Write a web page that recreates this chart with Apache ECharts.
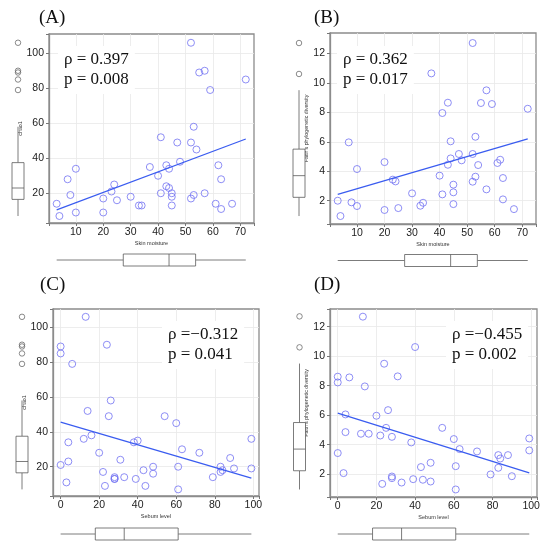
<!DOCTYPE html>
<html>
<head>
<meta charset="utf-8">
<script src="https://cdn.jsdelivr.net/npm/echarts@6/dist/echarts.min.js"></script>
<style>
html, body { margin: 0; padding: 0; background: #fff; }
#chart { width: 550px; height: 547px; }
</style>
</head>
<body>
<div id="chart"></div>
<script>
// points: [x, y]
var skinChaoPts = [[3,14],[4,7],[7,28],[8,19],[10,34],[10,9],[20,17],[20,9],[23,21],[24,25],[25,16],[30,18],
    [33,13],[34,13],[37,35],[40,30],[41,52],[41,20],[43,36],[43,24],[44,34],[44,23],[45,20],[45,18],[45,13],
    [47,49],[48,38],[52,49],[52,17],[52,106],[53,58],[53,19],[54,45],[55,89],[57,90],[57,20],[59,79],[61,14],
    [62,36],[63,28],[63,11],[67,14],[72,85]];
var skinFaithPts = [[3,2.0],[4,0.96],[7,5.96],[8,1.89],[10,1.64],[10,4.15],[20,4.62],[20,1.37],[23,3.43],[24,3.31],
    [25,1.5],[30,2.5],[33,1.66],[34,1.86],[37,10.64],[40,3.7],[41,7.95],[41,2.43],[43,8.65],[43,4.44],[44,6.03],
    [44,4.87],[45,3.09],[45,2.57],[45,1.77],[47,5.17],[48,4.74],[52,5.17],[52,3.29],[52,12.7],[53,6.34],[53,3.63],
    [54,4.42],[55,8.63],[57,9.49],[57,2.77],[59,8.56],[61,4.56],[62,4.78],[63,3.54],[63,2.09],[67,1.43],[72,8.24]];
var sebumChaoPts = [[0,89],[0,85],[0,21],[3,11],[4,34],[4,23],[6,79],[12,36],[13,106],[14,52],[16,38],[20,28],
    [22,17],[23,9],[24,90],[25,49],[26,58],[28,14],[28,13],[28,13],[31,24],[33,14],[38,34],[39,13],[40,35],[43,18],
    [44,9],[48,20],[48,16],[54,49],[60,45],[61,20],[61,7],[63,30],[72,28],[79,14],[83,20],[83,17],[84,18],
    [88,25],[90,19],[99,36],[99,19]];
var sebumFaithPts = [[0,8.61],[0,8.22],[0,3.43],[3,2.07],[4,6.05],[4,4.85],[6,8.56],[12,4.74],[13,12.68],[14,7.95],
    [16,4.74],[20,5.96],[22,4.62],[23,1.34],[24,9.49],[25,5.14],[26,6.34],[28,4.53],[28,1.84],[28,1.73],[31,8.63],
    [33,1.43],[38,4.15],[39,1.66],[40,10.62],[43,2.48],[44,1.62],[48,2.77],[48,1.5],[54,5.14],[60,4.38],[61,2.54],
    [61,0.96],[63,3.7],[72,3.54],[79,1.98],[83,3.29],[83,2.43],[84,3.06],[88,3.29],[90,1.86],[99,4.42],[99,3.61]];

// fitted lines, end points
var fitSkinChao = [[3,10.5],[72,51]];
var fitSkinFaith = [[3,2.43],[72,6.2]];
var fitSebumChao = [[0,45.6],[99,13.5]];
var fitSebumFaith = [[0,6.14],[99,2.09]];

// marginal boxplots: [low whisker, Q1, median, Q3, high whisker]
var chaoBox = [7, 16.5, 23, 37.5, 58];
var chaoOutliers = [106, 90, 89, 85, 79];
var faithBox = [0.96, 2.23, 3.7, 5.5, 9.5];
var faithOutliers = [12.7, 10.6];
var skinBox = [3, 27.3, 44, 53.7, 72];
var sebumBox = [0, 18, 33, 61, 99];

var panelLabels = ["(A)", "(B)", "(C)", "(D)"];
var statTexts = [
    "\u03c1 = 0.397\np = 0.008",
    "\u03c1 = 0.362\np = 0.017",
    "\u03c1 =\u22120.312\np = 0.041",
    "\u03c1 =\u22120.455\np = 0.002"
];

var panels = [
    {pts: skinChaoPts, fit: fitSkinChao, yBox: chaoBox, yOut: chaoOutliers, xBox: skinBox,
     xName: "Skin moisture", yName: "chao1",
     grid: {left: 49, top: 34, width: 205, height: 189}, xr: [0.2, 75, 10], yr: [3, 111, 20],
     boxL: 6, boxT: 248, stat: [58, 46], lab: [39, 18]},
    {pts: skinFaithPts, fit: fitSkinFaith, yBox: faithBox, yOut: faithOutliers, xBox: skinBox,
     xName: "Skin moisture", yName: "Faith's phylogenetic diversity",
     grid: {left: 330, top: 33, width: 206, height: 191}, xr: [0.2, 75, 10], yr: [0.42, 13.38, 2],
     boxL: 287, boxT: 248.5, stat: [337, 46], lab: [314, 18]},
    {pts: sebumChaoPts, fit: fitSebumChao, yBox: chaoBox, yOut: chaoOutliers, xBox: sebumBox,
     xName: "Sebum level", yName: "chao1",
     grid: {left: 53, top: 309, width: 206, height: 187}, xr: [-3.96, 102.96, 20], yr: [3.2, 110.5, 20],
     boxL: 10, boxT: 522, stat: [162, 321], lab: [40, 285]},
    {pts: sebumFaithPts, fit: fitSebumFaith, yBox: faithBox, yOut: faithOutliers, xBox: sebumBox,
     xName: "Sebum level", yName: "Faith's phylogenetic diversity",
     grid: {left: 330, top: 309, width: 207, height: 188}, xr: [-4, 103, 20], yr: [0.45, 13.2, 2],
     boxL: 287.5, boxT: 522, stat: [446, 321], lab: [314, 285]}
];

var chart = echarts.init(document.getElementById("chart"), null, {renderer: "canvas"});

function tickFormatter(step) {
    return function (v) {
        var r = v / step;
        return Math.abs(r - Math.round(r)) < 1e-6 ? String(Math.round(v)) : "";
    };
}

function boxRenderer(horizontal) {
    return function (params, api) {
        var at = function (i) {
            return horizontal ? api.coord([api.value(i), api.value(0)]) : api.coord([api.value(0), api.value(i)]);
        };
        var lo = at(1), q1 = at(2), md = at(3), q3 = at(4), hi = at(5);
        var hw = 6;
        var st = {stroke: "#5a5a5a", lineWidth: 0.8, fill: "#fff"};
        var kids;
        if (horizontal) {
            var y = lo[1];
            kids = [
                {type: "line", shape: {x1: lo[0], y1: y, x2: q1[0], y2: y}, style: st},
                {type: "line", shape: {x1: q3[0], y1: y, x2: hi[0], y2: y}, style: st},
                {type: "rect", shape: {x: q1[0], y: y - hw, width: q3[0] - q1[0], height: hw * 2}, style: st},
                {type: "line", shape: {x1: md[0], y1: y - hw, x2: md[0], y2: y + hw}, style: st}
            ];
        } else {
            var x = lo[0];
            kids = [
                {type: "line", shape: {x1: x, y1: lo[1], x2: x, y2: q1[1]}, style: st},
                {type: "line", shape: {x1: x, y1: q3[1], x2: x, y2: hi[1]}, style: st},
                {type: "rect", shape: {x: x - hw, y: q3[1], width: hw * 2, height: q1[1] - q3[1]}, style: st},
                {type: "line", shape: {x1: x - hw, y1: md[1], x2: x + hw, y2: md[1]}, style: st}
            ];
        }
        return {type: "group", children: kids};
    };
}

var grids = [], xAxes = [], yAxes = [], series = [], graphics = [];

panels.forEach(function (p, i) {
    var g0 = grids.length;
    // main scatter grid
    grids.push({left: p.grid.left, top: p.grid.top, width: p.grid.width, height: p.grid.height,
        show: true, borderColor: "#8c8c8c", borderWidth: 1.3, backgroundColor: "transparent"});
    // left boxplot grid
    grids.push({left: p.boxL, top: p.grid.top, width: 24, height: p.grid.height});
    // bottom boxplot grid
    grids.push({left: p.grid.left, top: p.boxT, width: p.grid.width, height: 24});

    var axisText = {fontFamily: "Liberation Sans", fontSize: 10.5, color: "#222"};
    xAxes.push({
        gridIndex: g0, type: "value", min: p.xr[0], max: p.xr[1],
        minInterval: p.xr[2], maxInterval: p.xr[2], splitNumber: 6,
        axisLine: {show: true, onZero: false, lineStyle: {color: "#8c8c8c", width: 1.3}},
        axisTick: {show: true, length: 3, lineStyle: {color: "#777"}},
        axisLabel: Object.assign({margin: 4, formatter: tickFormatter(p.xr[2])}, axisText),
        splitLine: {show: true, showMinLine: false, showMaxLine: false, lineStyle: {color: "#e8e8e8", width: 0.8}},
        name: p.xName, nameLocation: "middle", nameGap: 17,
        nameTextStyle: {fontFamily: "Liberation Sans", fontSize: 5.5, color: "#333"}
    });
    yAxes.push({
        gridIndex: g0, type: "value", min: p.yr[0], max: p.yr[1],
        minInterval: p.yr[2], maxInterval: p.yr[2], splitNumber: 6,
        axisLine: {show: true, onZero: false, lineStyle: {color: "#8c8c8c", width: 1.3}},
        axisTick: {show: true, length: 3, lineStyle: {color: "#777"}},
        axisLabel: Object.assign({margin: 5, formatter: tickFormatter(p.yr[2])}, axisText),
        splitLine: {show: true, showMinLine: false, showMaxLine: false, lineStyle: {color: "#e8e8e8", width: 0.8}},
        name: p.yName, nameLocation: "middle", nameGap: 18, nameRotate: 90,
        nameTextStyle: {fontFamily: "Liberation Sans", fontSize: 5.3, color: "#333"}
    });
    // left box axes
    xAxes.push({gridIndex: g0 + 1, type: "value", min: 0, max: 1, show: false});
    yAxes.push({gridIndex: g0 + 1, type: "value", min: p.yr[0], max: p.yr[1], show: false});
    // bottom box axes
    xAxes.push({gridIndex: g0 + 2, type: "value", min: p.xr[0], max: p.xr[1], show: false});
    yAxes.push({gridIndex: g0 + 2, type: "value", min: 0, max: 1, show: false});

    series.push({
        type: "scatter", xAxisIndex: g0, yAxisIndex: g0, data: p.pts,
        symbol: "circle", symbolSize: 7, silent: true,
        itemStyle: {color: "rgba(0,0,0,0)", borderColor: "#7272f2", borderWidth: 1}
    });
    series.push({
        type: "line", xAxisIndex: g0, yAxisIndex: g0, data: p.fit,
        symbol: "none", silent: true, lineStyle: {color: "#3a5cf0", width: 1.2}
    });
    series.push({
        type: "custom", xAxisIndex: g0 + 1, yAxisIndex: g0 + 1, clip: false, silent: true,
        data: [[0.5].concat(p.yBox)], renderItem: boxRenderer(false)
    });
    series.push({
        type: "scatter", xAxisIndex: g0 + 1, yAxisIndex: g0 + 1, silent: true,
        data: p.yOut.map(function (v) { return [0.5, v]; }),
        symbol: "circle", symbolSize: 5.5,
        itemStyle: {color: "rgba(0,0,0,0)", borderColor: "#5e5e5e", borderWidth: 0.9}
    });
    series.push({
        type: "custom", xAxisIndex: g0 + 2, yAxisIndex: g0 + 2, clip: false, silent: true,
        data: [[0.5].concat(p.xBox)], renderItem: boxRenderer(true)
    });

    graphics.push({
        type: "text", x: p.stat[0], y: p.stat[1], z: 100,
        style: {text: statTexts[i], font: "17px 'Liberation Serif'", fill: "#111",
            lineHeight: 20, backgroundColor: "#fff", padding: [4, 6]}
    });
    graphics.push({
        type: "text", x: p.lab[0], y: p.lab[1], z: 100,
        style: {text: panelLabels[i], font: "19px 'Liberation Serif'", fill: "#111", verticalAlign: "middle"}
    });
});

chart.setOption({
    animation: false,
    backgroundColor: "#fff",
    grid: grids,
    xAxis: xAxes,
    yAxis: yAxes,
    series: series,
    graphic: graphics
});
</script>
</body>
</html>
